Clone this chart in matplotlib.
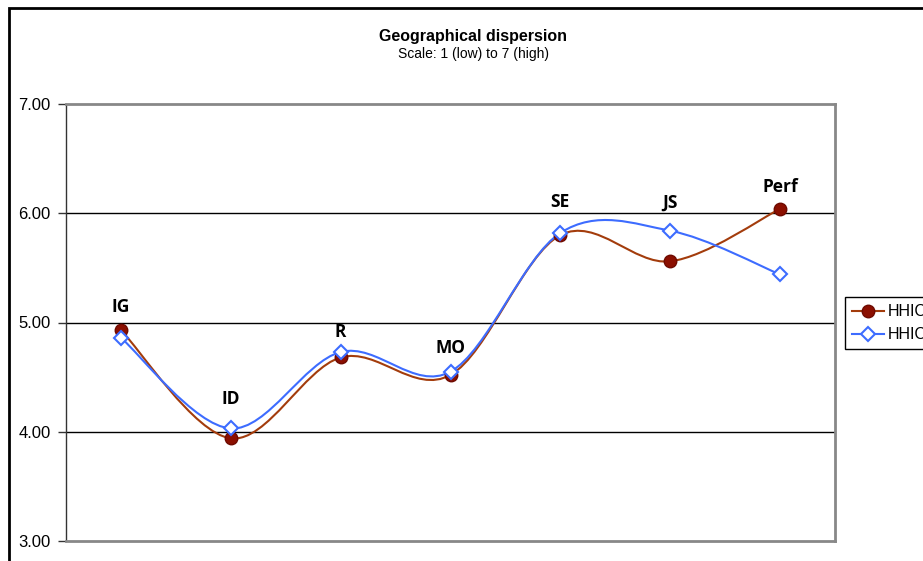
import matplotlib
matplotlib.use("Agg")
from matplotlib import pyplot
from matplotlib.path import Path
from matplotlib.patches import PathPatch, Rectangle
from matplotlib.lines import Line2D

# data
categories = ["IG", "ID", "R", "MO", "SE", "JS", "Perf"]
hhic1 = [4.93, 3.94, 4.68, 4.52, 5.80, 5.56, 6.04]
hhic2 = [4.86, 4.03, 4.73, 4.55, 5.82, 5.84, 5.44]
label_y = [5.14, 4.30, 4.91, 4.77, 6.10, 6.10, 6.24]
y_ticks = [3, 4, 5, 6, 7]


def smooth_path(xs, ys):
    # excel-like smoothed line: bezier segments with catmull-rom control points
    verts = [(xs[0], ys[0])]
    codes = [Path.MOVETO]
    n = len(xs)
    for i in range(n - 1):
        x0, y0 = (xs[i - 1], ys[i - 1]) if i > 0 else (xs[i], ys[i])
        x1, y1 = xs[i], ys[i]
        x2, y2 = xs[i + 1], ys[i + 1]
        x3, y3 = (xs[i + 2], ys[i + 2]) if i + 2 < n else (x2, y2)
        c1 = (x1 + (x2 - x0) / 6, y1 + (y2 - y0) / 6)
        c2 = (x2 - (x3 - x1) / 6, y2 - (y3 - y1) / 6)
        verts += [c1, c2, (x2, y2)]
        codes += [Path.CURVE4] * 3
    return Path(verts, codes)


fig = pyplot.figure(figsize=(9.23, 5.61), dpi=100)
W, H = 923, 561
ax = fig.add_axes([66 / W, 1 - 541 / H, (835 - 66) / W, (541 - 104) / H])

# outer chart border (cut off at right/bottom)
fig.patches.append(Rectangle((9 / W, -0.1), 1.2, 1 - 8 / H + 0.1, transform=fig.transFigure,
                             fill=False, edgecolor='black', linewidth=2, zorder=0))

x = list(range(len(categories)))
col1 = '#a33c0c'
col2 = '#3d6cff'

ax.add_patch(PathPatch(smooth_path(x, hhic1), fill=False, edgecolor=col1, linewidth=1.5, zorder=3))
ax.add_patch(PathPatch(smooth_path(x, hhic2), fill=False, edgecolor=col2, linewidth=1.5, zorder=4))
ax.plot(x, hhic1, linestyle='none', marker='o', markersize=9, markerfacecolor='#8b0f00',
        markeredgecolor='#6e0a00', markeredgewidth=1, zorder=5)
ax.plot(x, hhic2, linestyle='none', marker='D', markersize=7.5, markerfacecolor='white',
        markeredgecolor=col2, markeredgewidth=1.5, zorder=6)

for xi, lab, ly in zip(x, categories, label_y):
    ax.text(xi, ly, lab, ha='center', va='center', fontsize=12.5, fontweight='bold',
            family='Open Sans', color='black', zorder=7)

ax.set_xlim(-0.5, len(categories) - 0.5)
ax.set_ylim(3, 7)
ax.set_xticks([])
ax.set_yticks(y_ticks)
ax.set_yticklabels(["%.2f" % v for v in y_ticks], family='Liberation Sans', fontsize=12)
ax.tick_params(axis='y', direction='out', length=6, width=1, color='#333333', pad=5)

for v in y_ticks[1:-1]:
    ax.axhline(v, color='black', linewidth=1, zorder=1)

ax.spines['left'].set_color('#333333')
ax.spines['left'].set_linewidth(1)
for s in ['top', 'bottom', 'right']:
    ax.spines[s].set_color('#888888')
    ax.spines[s].set_linewidth(2)

fig.text(473 / W, 1 - 36 / H, "Geographical dispersion", ha='center', va='center',
         fontsize=11.5, fontweight='bold', family='Liberation Sans')
fig.text(473 / W, 1 - 54 / H, "Scale: 1 (low) to 7 (high)", ha='center', va='center',
         fontsize=10, family='Liberation Sans')

handles = [
    Line2D([], [], color=col1, linewidth=1.5, marker='o', markersize=9,
           markerfacecolor='#8b0f00', markeredgecolor='#6e0a00'),
    Line2D([], [], color=col2, linewidth=1.5, marker='D', markersize=7.5,
           markerfacecolor='white', markeredgecolor=col2, markeredgewidth=1.5),
]
leg = fig.legend(handles, ["HHIC1", "HHIC2"], loc='upper left',
                 bbox_to_anchor=(845 / W, 1 - 297 / H), fancybox=False, shadow=False,
                 edgecolor='black', framealpha=1, handlelength=2.0, handletextpad=0.25,
                 borderpad=0.45, labelspacing=0.5, borderaxespad=0,
                 prop={'family': 'Liberation Sans', 'size': 11.5})
leg.get_frame().set_linewidth(1)

fig.savefig('out.png')
